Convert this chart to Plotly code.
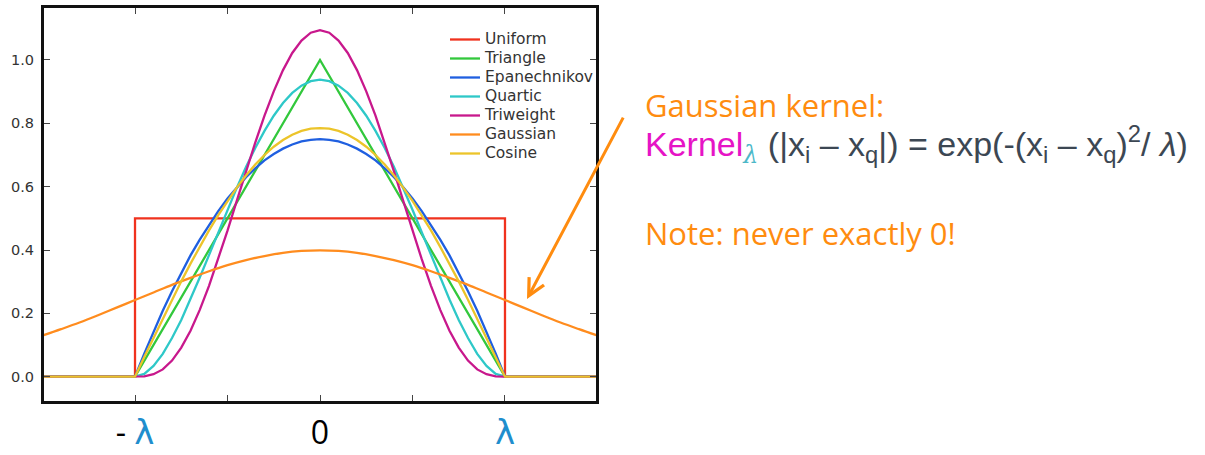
import plotly.graph_objects as go

# ---------------- data ----------------
series_names = ["Uniform", "Triangle", "Epanechnikov", "Quartic", "Triweight", "Gaussian", "Cosine"]
series_colors = ["#f0321e", "#32c83c", "#1f5fe0", "#2ec8c8", "#c8188c", "#ff8c1e", "#ecc42a"]

x_uniform = [-1.5, -1.0, -1.0, 1.0, 1.0, 1.5]
y_uniform = [0, 0, 0.5, 0.5, 0, 0]

x_triangle = [-1.5, -1.0, 0.0, 1.0, 1.5]
y_triangle = [0, 0, 1.0, 0, 0]

x_kernel = [-1.5, -1.0, -0.95, -0.9, -0.85, -0.8, -0.75, -0.7, -0.65, -0.6, -0.55, -0.5,
            -0.45, -0.4, -0.35, -0.3, -0.25, -0.2, -0.15, -0.1, -0.05, 0.0,
            0.05, 0.1, 0.15, 0.2, 0.25, 0.3, 0.35, 0.4, 0.45, 0.5, 0.55, 0.6,
            0.65, 0.7, 0.75, 0.8, 0.85, 0.9, 0.95, 1.0, 1.5]

y_epanechnikov = [0, 0, 0.073, 0.143, 0.208, 0.270, 0.328, 0.383, 0.433, 0.480, 0.523, 0.563,
                  0.598, 0.630, 0.658, 0.683, 0.703, 0.720, 0.733, 0.743, 0.748, 0.750,
                  0.748, 0.743, 0.733, 0.720, 0.703, 0.683, 0.658, 0.630, 0.598, 0.563,
                  0.523, 0.480, 0.433, 0.383, 0.328, 0.270, 0.208, 0.143, 0.073, 0, 0]

y_quartic = [0, 0, 0.009, 0.034, 0.072, 0.122, 0.179, 0.244, 0.313, 0.384, 0.456, 0.527,
             0.596, 0.662, 0.722, 0.776, 0.824, 0.864, 0.896, 0.919, 0.933, 0.938,
             0.933, 0.919, 0.896, 0.864, 0.824, 0.776, 0.722, 0.662, 0.596, 0.527,
             0.456, 0.384, 0.313, 0.244, 0.179, 0.122, 0.072, 0.034, 0.009, 0, 0]

y_triweight = [0, 0, 0.001, 0.008, 0.023, 0.051, 0.092, 0.145, 0.211, 0.287, 0.371, 0.461,
               0.555, 0.648, 0.739, 0.824, 0.901, 0.968, 1.022, 1.061, 1.086, 1.094,
               1.086, 1.061, 1.022, 0.968, 0.901, 0.824, 0.739, 0.648, 0.555, 0.461,
               0.371, 0.287, 0.211, 0.145, 0.092, 0.051, 0.023, 0.008, 0.001, 0, 0]

y_cosine = [0, 0, 0.062, 0.123, 0.183, 0.243, 0.301, 0.357, 0.410, 0.462, 0.510, 0.555,
            0.597, 0.635, 0.670, 0.700, 0.726, 0.747, 0.764, 0.776, 0.783, 0.785,
            0.783, 0.776, 0.764, 0.747, 0.726, 0.700, 0.670, 0.635, 0.597, 0.555,
            0.510, 0.462, 0.410, 0.357, 0.301, 0.243, 0.183, 0.123, 0.062, 0, 0]

x_gauss = [-1.5, -1.4, -1.3, -1.2, -1.1, -1.0, -0.9, -0.8, -0.7, -0.6, -0.5, -0.4, -0.3, -0.2, -0.1, 0.0,
           0.1, 0.2, 0.3, 0.4, 0.5, 0.6, 0.7, 0.8, 0.9, 1.0, 1.1, 1.2, 1.3, 1.4, 1.5]
y_gauss = [0.130, 0.150, 0.171, 0.194, 0.218, 0.242, 0.266, 0.290, 0.312, 0.333, 0.352, 0.368,
           0.381, 0.391, 0.397, 0.399, 0.397, 0.391, 0.381, 0.368, 0.352, 0.333, 0.312,
           0.290, 0.266, 0.242, 0.218, 0.194, 0.171, 0.150, 0.130]

LAMBDA = "<span style='color:#1f8ecd;font-family:DejaVu Sans;font-size:34px'>λ</span>"
x_tickvals = [-1.0, -0.5, 0.0, 0.5, 1.0]
x_ticktext = ["- " + LAMBDA, "", "0", "", LAMBDA]
y_tickvals = [0.0, 0.2, 0.4, 0.6, 0.8, 1.0]
y_ticktext = ["0.0", "0.2", "0.4", "0.6", "0.8", "1.0"]

# ---------------- figure ----------------
W, H = 1205, 455
ML, MR, MT, MB = 44, 609, 8, 54
PW, PH = W - ML - MR, H - MT - MB


def px_to_paper(px, py):
    return (px - ML) / PW, (H - MB - py) / PH


fig = go.Figure()
xs = [x_uniform, x_triangle, x_kernel, x_kernel, x_kernel, x_gauss, x_kernel]
ys = [y_uniform, y_triangle, y_epanechnikov, y_quartic, y_triweight, y_gauss, y_cosine]
for name, color, xv, yv in zip(series_names, series_colors, xs, ys):
    fig.add_trace(go.Scatter(
        x=xv, y=yv, mode="lines",
        name="<span style='font-size:15.5px'>" + name + "</span>",
        line=dict(color=color, width=2.3, shape="spline" if name == "Gaussian" else "linear"),
        hoverinfo="skip",
    ))

lx, ly = px_to_paper(445, 25)
fig.update_layout(
    width=W, height=H,
    margin=dict(l=ML, r=MR, t=MT, b=MB, pad=0, autoexpand=False),
    paper_bgcolor="white", plot_bgcolor="white",
    showlegend=True,
    legend=dict(x=lx, y=ly, xanchor="left", yanchor="top",
                bgcolor="rgba(0,0,0,0)", borderwidth=0,
                font=dict(family="DejaVu Sans", size=12, color="#333333"),
                itemclick=False),
    font=dict(family="DejaVu Sans", color="#333333"),
)

fig.update_xaxes(
    range=[-1.492, 1.492], tickvals=x_tickvals, ticktext=x_ticktext,
    ticks="inside", ticklen=6, tickwidth=1.2, tickcolor="#444444",
    showline=True, linewidth=3, linecolor="#111111", mirror="ticks",
    showgrid=False, zeroline=False, automargin=False,
    tickfont=dict(family="Open Sans", size=32, color="#000000"),
    ticklabelstandoff=2,
)
fig.update_yaxes(
    range=[-0.0767, 1.164], tickvals=y_tickvals, ticktext=y_ticktext,
    ticks="inside", ticklen=6, tickwidth=1.2, tickcolor="#444444",
    showline=True, linewidth=3, linecolor="#111111", mirror="ticks",
    showgrid=False, zeroline=False, automargin=False,
    tickfont=dict(family="DejaVu Sans", size=14.5, color="#333333"),
    ticklabelstandoff=4,
)

ORANGE = "#ff8c0f"
GRAY = "#3c4753"

# arrow pointing at the Gaussian curve
fig.add_annotation(x=1.119, y=0.245, xref="x", yref="y", ax=97, ay=-183,
                   text="", showarrow=True, arrowhead=5, arrowsize=1.1,
                   arrowwidth=3, arrowcolor=ORANGE)

tx, ty = px_to_paper(643, 105)
fig.add_annotation(x=tx, y=ty, xref="paper", yref="paper", xanchor="left", yanchor="middle",
                   text="Gaussian kernel:", showarrow=False,
                   font=dict(family="Open Sans", size=31, color=ORANGE))

formula = ("<span style='color:#e614c6'>Kernel</span>"
           "<sub><span style='color:#4cb8c8;font-family:DejaVu Serif;font-style:italic'>λ</span></sub>"
           " (|x<sub>i</sub> – x<sub>q</sub>|) = exp(-(x<sub>i</sub> – x<sub>q</sub>)<sup>2</sup>/ <i>λ</i>)")
tx, ty = px_to_paper(643, 144)
fig.add_annotation(x=tx, y=ty, xref="paper", yref="paper", xanchor="left", yanchor="middle",
                   text=formula, showarrow=False,
                   font=dict(family="Liberation Sans", size=34, color=GRAY))

tx, ty = px_to_paper(643, 233)
fig.add_annotation(x=tx, y=ty, xref="paper", yref="paper", xanchor="left", yanchor="middle",
                   text="Note: never exactly 0!", showarrow=False,
                   font=dict(family="Open Sans", size=31, color=ORANGE))

fig.write_html("out.html", config={"displayModeBar": False},
               post_script="document.body.style.margin='0';")
